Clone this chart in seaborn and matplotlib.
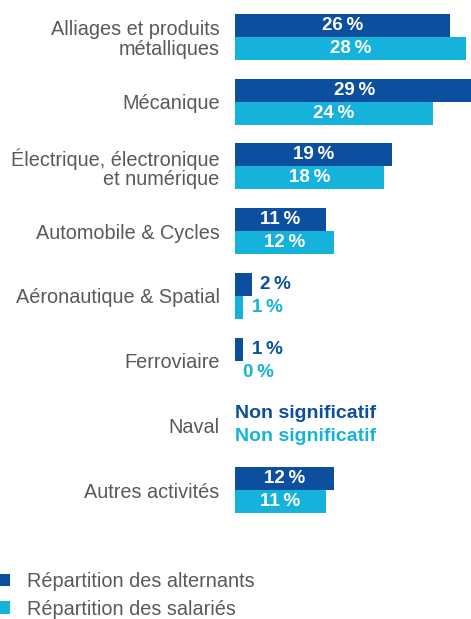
import numpy as np
import pandas as pd
import matplotlib.pyplot as plt
import seaborn as sns

# Data
categories = [
    "Alliages et produits\nmétalliques",
    "Mécanique",
    "Électrique, électronique\net numérique",
    "Automobile & Cycles",
    "Aéronautique & Spatial",
    "Ferroviaire",
    "Naval",
    "Autres activités",
]
alternants = [26, 29, 19, 11, 2, 1, np.nan, 12]
salaries = [28, 24, 18, 12, 1, 0, np.nan, 11]
series_names = ["Répartition des alternants", "Répartition des salariés"]
colors = ["#0b4f9e", "#15b3db"]
label_gray = "#595959"

df = pd.DataFrame({
    "Secteur": categories * 2,
    "Part": alternants + salaries,
    "Série": [series_names[0]] * len(categories) + [series_names[1]] * len(categories),
})
df["Largeur"] = df["Part"].fillna(0)

sns.set_theme(style="white")
plt.rcParams["font.family"] = ["Liberation Sans", "DejaVu Sans"]

fig = plt.figure(figsize=(4.71, 6.19), dpi=100)
ax = fig.add_axes([235 / 471, 1 - 522.4 / 619, 236 / 471, 517.8 / 619])

sns.barplot(data=df, y="Secteur", x="Largeur", hue="Série", palette=colors,
            orient="h", width=0.71, saturation=1, errorbar=None,
            linewidth=0, ax=ax)

ax.set_xlim(0, 28.6)
ax.set_ylim(7.5, -0.5)
ax.set_xlabel("")
ax.set_ylabel("")
ax.set_xticks([])
sns.despine(ax=ax, left=True, bottom=True)
ax.tick_params(axis="y", length=0, pad=11, labelsize=14.3, labelcolor=label_gray)
for lbl in ax.get_yticklabels():
    lbl.set_linespacing(1.05)

# Value labels
for container, values, color in zip(ax.containers, [alternants, salaries], colors):
    for bar, v in zip(container, values):
        y = bar.get_y() + bar.get_height() / 2
        if np.isnan(v):
            ax.text(0, y, "Non significatif", ha="left", va="center",
                    fontsize=14, fontweight="bold", color=color)
        elif v >= 5:
            ax.text(bar.get_width() / 2, y, f"{v:.0f}\u2009%", ha="center", va="center",
                    fontsize=13.5, fontweight="bold", color="white")
        else:
            ax.annotate(f"{v:.0f}\u2009%", (bar.get_width(), y), xytext=(6, 0),
                        textcoords="offset points", ha="left", va="center",
                        fontsize=13.5, fontweight="bold", color=color)

handles, labels = ax.get_legend_handles_labels()
ax.legend_.remove()
fig.legend(handles, labels, loc="upper left", bbox_to_anchor=(0, 1 - 572 / 619),
           frameon=False, fontsize=14.3, handlelength=0.5, handleheight=0.62,
           handletextpad=0.85, borderaxespad=0, borderpad=0, labelspacing=0.43,
           labelcolor=label_gray)

fig.savefig("out.png", dpi=100)
